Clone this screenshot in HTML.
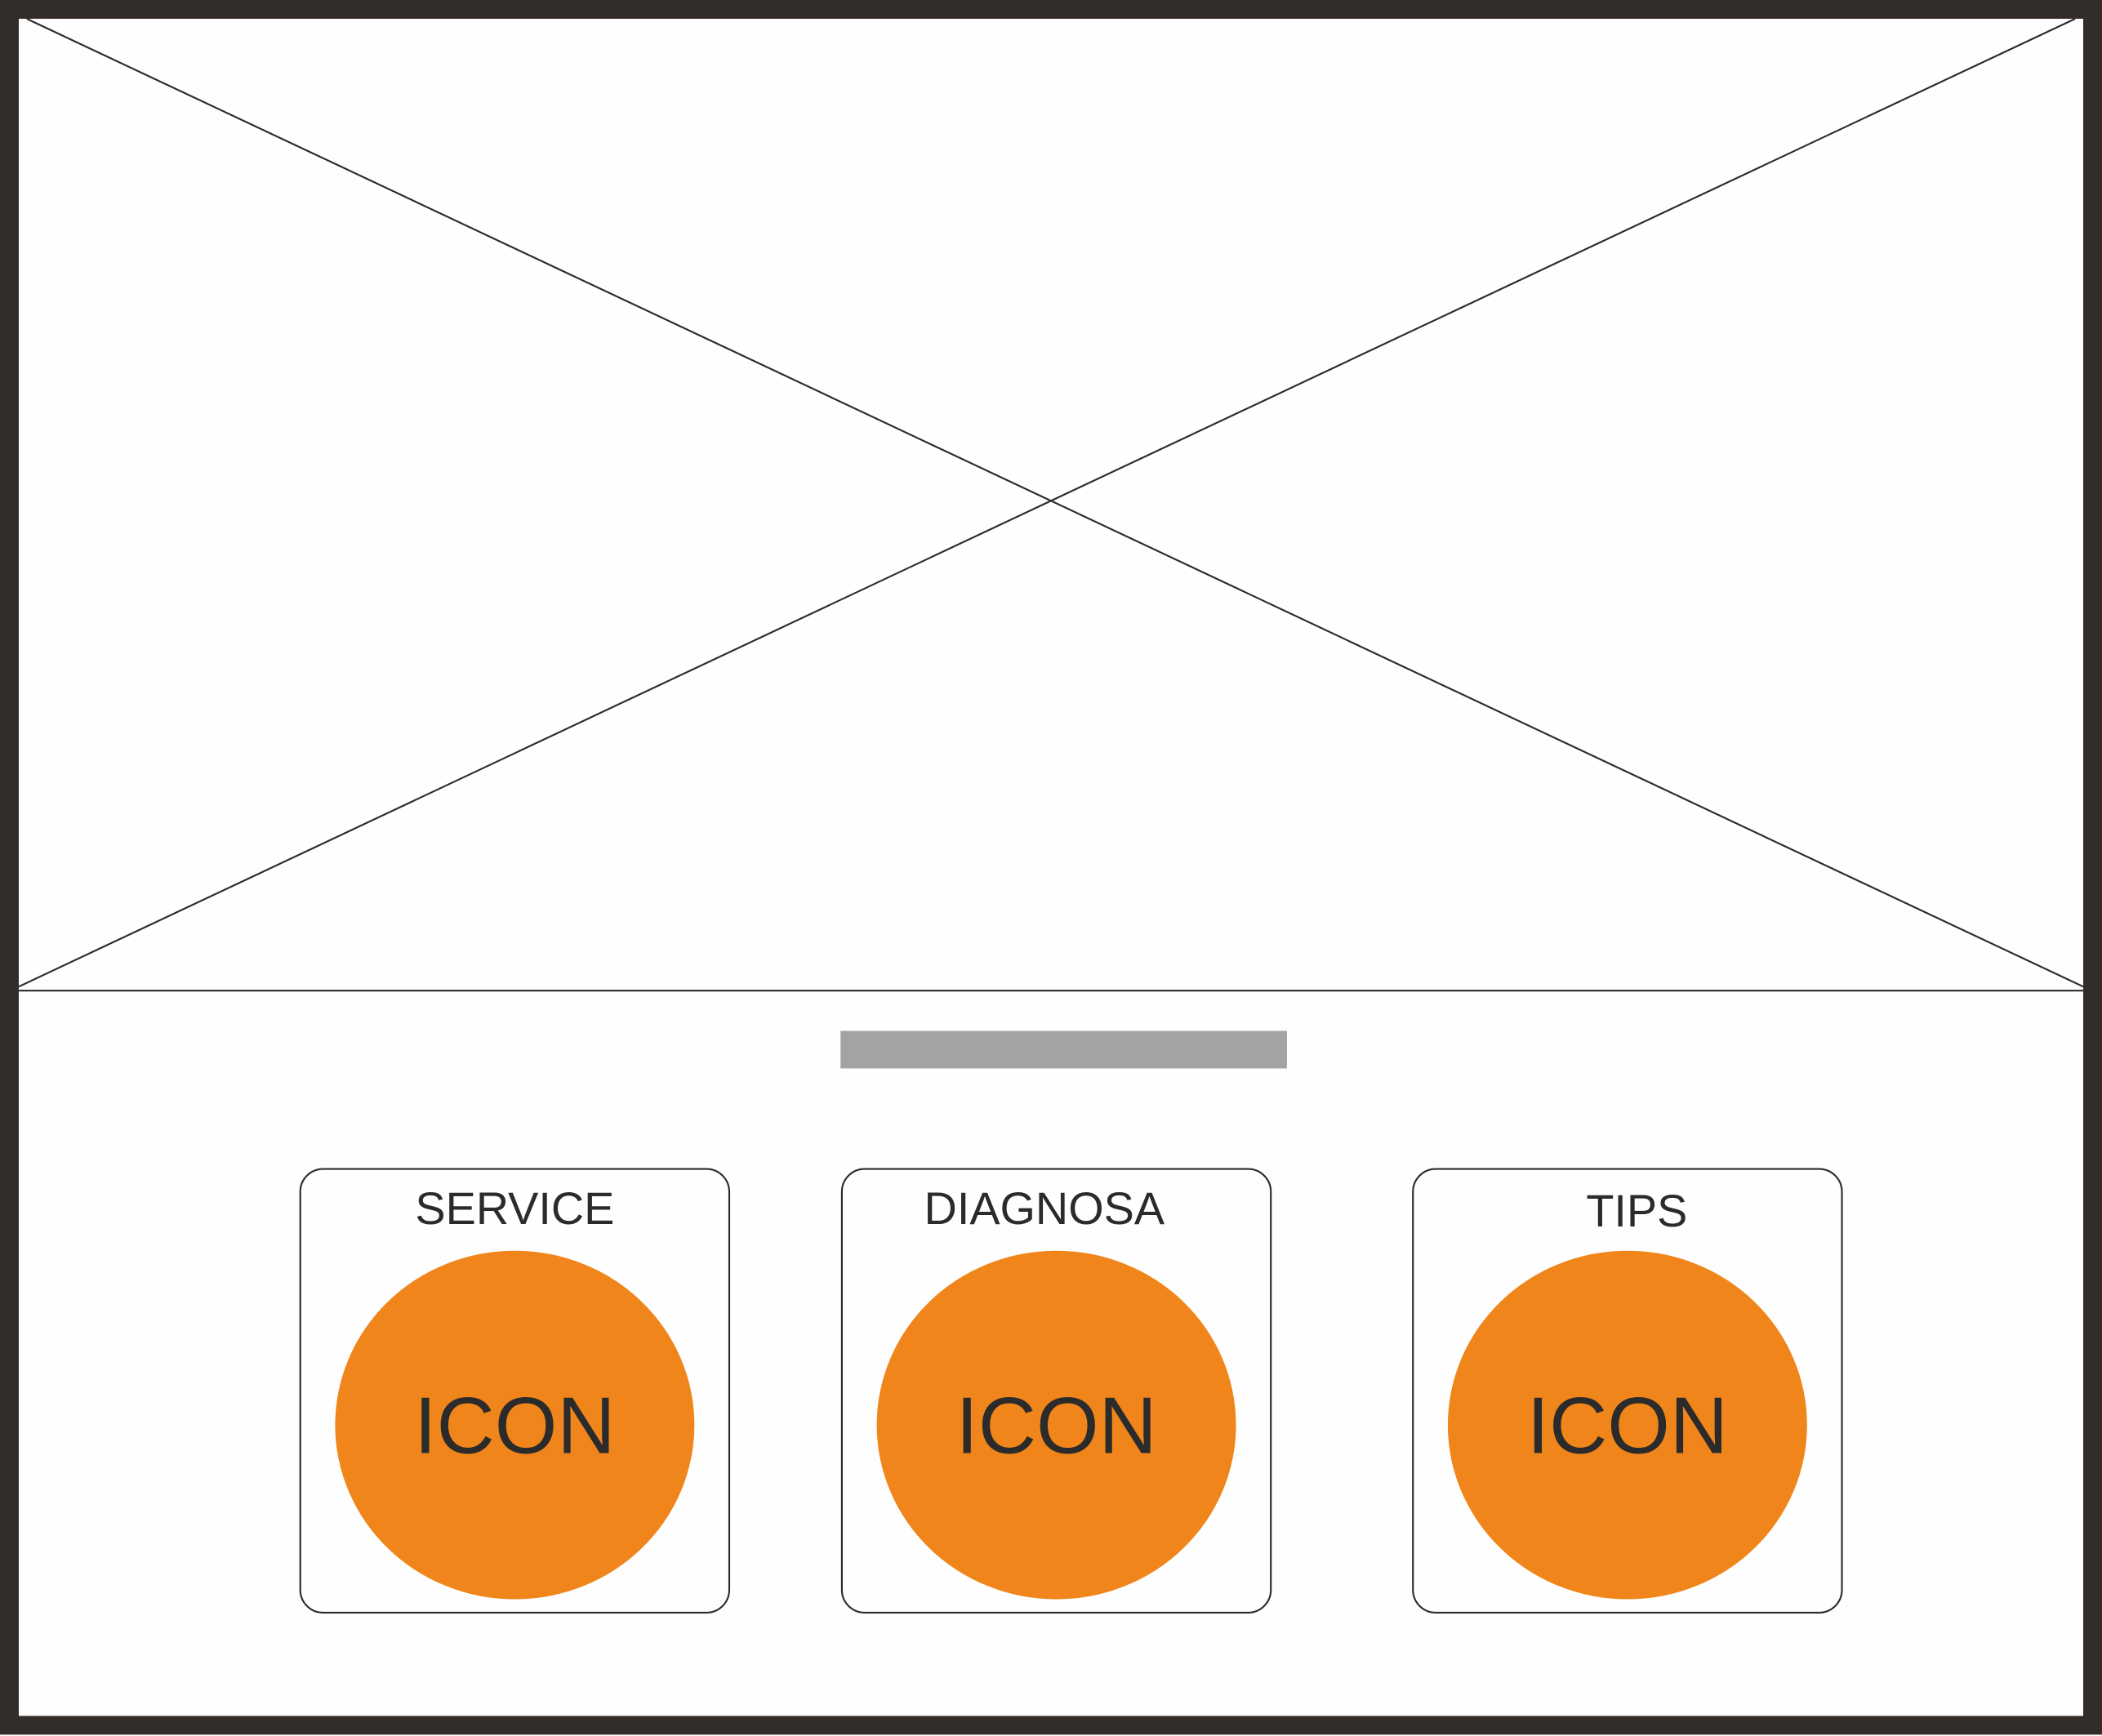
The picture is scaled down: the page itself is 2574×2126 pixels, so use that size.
<!DOCTYPE html>
<html><head><meta charset="utf-8"><style>
html,body{margin:0;padding:0;background:#fefefe;}
svg{display:block;}
</style></head><body>
<svg width="2574" height="2126" viewBox="0 0 1568 1295" preserveAspectRatio="none" xmlns="http://www.w3.org/2000/svg">
<rect x="0" y="0" width="1568" height="1295" fill="#fefefe"/>
<line x1="20" y1="14" x2="1554" y2="736" stroke="#2b2b2b" stroke-width="1.3"/>
<line x1="1548" y1="14" x2="14" y2="736" stroke="#2b2b2b" stroke-width="1.3"/>
<line x1="14" y1="739" x2="1554" y2="739" stroke="#2b2b2b" stroke-width="1.3"/>
<rect x="627" y="769" width="333" height="28" fill="#a3a3a3"/>
<g fill="#fefefe" stroke="#2b2b2b" stroke-width="1.3">
<rect x="224" y="872" width="320" height="331" rx="17"/>
<rect x="628" y="872" width="320" height="331" rx="17"/>
<rect x="1054" y="872" width="320" height="331" rx="17"/>
</g>
<g fill="#f0861b">
<ellipse cx="384" cy="1063" rx="134" ry="130"/>
<ellipse cx="788" cy="1063" rx="134" ry="130"/>
<ellipse cx="1214" cy="1063" rx="134" ry="130"/>
</g>
<g font-family="Liberation Sans, Arial, sans-serif" fill="#2b2b2b" text-anchor="middle">
<text x="384" y="913" font-size="34">SERVICE</text>
<text x="779" y="913" font-size="34">DIAGNOSA</text>
<text x="1221" y="915" font-size="34">TIPS</text>
<text x="384" y="1084" font-size="60">ICON</text>
<text x="788" y="1084" font-size="60">ICON</text>
<text x="1214" y="1084" font-size="60">ICON</text>
</g>
<rect x="7" y="7" width="1554" height="1280" fill="none" stroke="#332d2a" stroke-width="14"/>
</svg>
</body></html>
